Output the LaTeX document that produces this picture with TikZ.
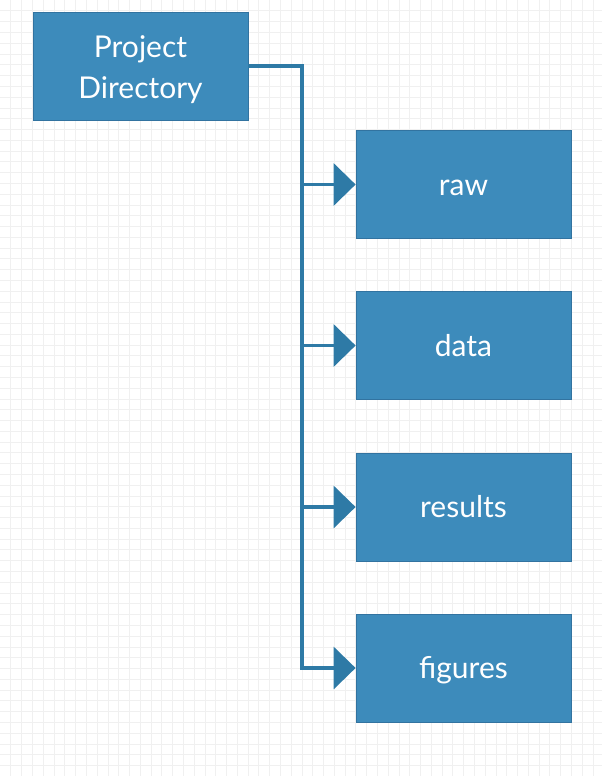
\documentclass[tikz,border=0pt]{standalone}
\usepackage{fontspec}
\setmainfont{Lato}
\usetikzlibrary{arrows.meta}
\definecolor{boxfill}{RGB}{61,139,187}
\definecolor{boxline}{RGB}{50,115,160}
\definecolor{conncol}{RGB}{46,122,166}
\definecolor{gridcol}{RGB}{240,240,240}
\tikzset{
  dirbox/.style={draw=boxline, line width=0.8pt, fill=boxfill, text=white,
    minimum width=215pt, minimum height=108pt, inner sep=0pt, align=center,
    text height=23pt, text depth=2pt,
    font=\fontsize{30}{41}\selectfont},
  rootbox/.style={dirbox, text height=66pt, text depth=2pt},
  conn/.style={draw=conncol, line width=3.4pt},
  connarrow/.style={conn, -{Triangle[length=22pt,width=42pt]}}
}
\begin{document}
\begin{tikzpicture}[x=1pt,y=-1pt]
  \useasboundingbox (0,0) rectangle (602,776);
  \fill[white] (0,0) rectangle (602,776);
  \foreach \i in {1,...,55} {\draw[gridcol, line width=0.6pt] (\i*10.78,0) -- (\i*10.78,776);}
  \foreach \i in {1,...,71} {\draw[gridcol, line width=0.6pt] (0,\i*10.78) -- (602,\i*10.78);}

  \node[rootbox] (pd) at (140.5,66) {Project\\Directory};
  \node[dirbox] (raw) at (463.5,184.5) {raw};
  \node[dirbox] (data) at (463.5,345.5) {data};
  \node[dirbox] (results) at (463.5,507) {results};
  \node[dirbox] (figures) at (463.5,668) {figures};

  \coordinate (bus) at (302,66);
  \draw[conn, line join=miter] (pd.east) -- (bus) -- (bus |- figures.west) -- ([xshift=-20pt]figures.west);
  \foreach \n in {raw,data,results,figures} {
    \draw[connarrow] (bus |- \n.west) -- (\n.west);
  }
\end{tikzpicture}
\end{document}
